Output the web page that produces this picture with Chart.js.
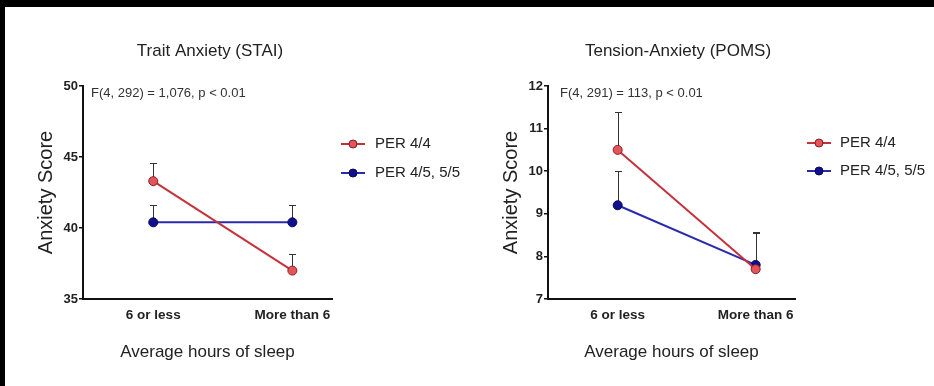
<!DOCTYPE html>
<html>
<head>
<meta charset="utf-8">
<script src="https://cdn.jsdelivr.net/npm/chart.js@4.4.0/dist/chart.umd.min.js"></script>
<style>
  html, body { margin:0; padding:0; background:#000; width:934px; height:386px; overflow:hidden; }
  #paper { position:absolute; left:5px; top:7px; width:929px; height:379px; background:#fff; }
  canvas { position:absolute; top:7px; }
  #c1 { left:5px; }
  #c2 { left:470px; }
</style>
</head>
<body>
<div id="paper"></div>
<canvas id="c1" width="465" height="379"></canvas>
<canvas id="c2" width="464" height="379"></canvas>
<script>
// ---------- data ----------
const categories = ['6 or less', 'More than 6'];
const seriesNames = ['PER 4/4', 'PER 4/5, 5/5'];
const chartTitles = ['Trait Anxiety (STAI)', 'Tension-Anxiety (POMS)'];
const statTexts = ['F(4, 292) = 1,076, p < 0.01', 'F(4, 291) = 113, p < 0.01'];
const yAxisTitle = 'Anxiety Score';
const xAxisTitle = 'Average hours of sleep';

const staiPer44 = [43.3, 37.0];
const staiPer44Err = [1.25, 1.15];
const staiPer4555 = [40.4, 40.4];
const staiPer4555Err = [1.2, 1.2];
const staiTicks = [35, 40, 45, 50];

const pomsPer44 = [10.5, 7.7];
const pomsPer44Err = [0.9, 0.85];
const pomsPer4555 = [9.2, 7.8];
const pomsPer4555Err = [0.8, 0.77];
const pomsTicks = [7, 8, 9, 10, 11, 12];

// ---------- style ----------
const FONT = "'Liberation Sans', Arial, sans-serif";
Chart.defaults.font.family = FONT;
const TXT = '#222';
const AX = '#111';
const RED = { line: '#c4323c', fill: '#e4545b', edge: '#8e1c22' };
const BLUE = { line: '#2a2aae', fill: '#10108c', edge: '#08085e' };

const errorBarPlugin = {
  id: 'errorBars',
  beforeDatasetsDraw(chart) {
    const { ctx } = chart;
    const xs = chart.scales.x, ys = chart.scales.y;
    ctx.save();
    ctx.strokeStyle = '#333';
    ctx.lineWidth = 1;
    chart.data.datasets.forEach(ds => {
      ds.data.forEach((p, i) => {
        const e = ds.errors[i];
        const x = Math.round(xs.getPixelForValue(p.x)) + 0.5;
        const y0 = ys.getPixelForValue(p.y);
        const y1 = Math.round(ys.getPixelForValue(p.y + e)) + 0.5;
        ctx.beginPath();
        ctx.moveTo(x, y0);
        ctx.lineTo(x, y1);
        ctx.moveTo(x - 3.5, y1);
        ctx.lineTo(x + 3.5, y1);
        ctx.stroke();
      });
    });
    ctx.restore();
  }
};

const extrasPlugin = {
  id: 'extras',
  afterDraw(chart, args, opts) {
    const { ctx, chartArea } = chart;
    ctx.save();
    // statistic text
    ctx.font = '13px ' + FONT;
    ctx.fillStyle = '#333';
    ctx.textBaseline = 'middle';
    ctx.textAlign = 'left';
    ctx.fillText(opts.stat, chartArea.left + opts.statDx, chartArea.top + 7);
    // legend
    ctx.font = '15px ' + FONT;
    chart.data.datasets.forEach((ds, i) => {
      const y = opts.legY + i * opts.legGap;
      ctx.strokeStyle = ds.borderColor;
      ctx.lineWidth = 2;
      ctx.beginPath();
      ctx.moveTo(opts.legX, y);
      ctx.lineTo(opts.legX + opts.legLen, y);
      ctx.stroke();
      ctx.beginPath();
      ctx.arc(opts.legX + opts.legLen / 2, y, 4, 0, Math.PI * 2);
      ctx.fillStyle = ds.pointBackgroundColor;
      ctx.fill();
      ctx.lineWidth = 1;
      ctx.strokeStyle = ds.pointBorderColor;
      ctx.stroke();
      ctx.fillStyle = TXT;
      ctx.fillText(ds.label, opts.legX + opts.legLen + opts.legTextGap, y);
    });
    ctx.restore();
  }
};

function ds(label, vals, errs, c) {
  return {
    label,
    data: vals.map((v, i) => ({ x: i, y: v })),
    errors: errs,
    borderColor: c.line,
    borderWidth: 2,
    pointBackgroundColor: c.fill,
    pointBorderColor: c.edge,
    pointBorderWidth: 1,
    pointRadius: 4.5,
    tension: 0,
    fill: false
  };
}

function makeChart(id, cfg) {
  new Chart(document.getElementById(id), {
    type: 'line',
    data: {
      datasets: [
        ds(seriesNames[0], cfg.a, cfg.aErr, RED),
        ds(seriesNames[1], cfg.b, cfg.bErr, BLUE)
      ]
    },
    options: {
      responsive: false,
      animation: false,
      events: [],
      layout: { autoPadding: false, padding: { left: 29, right: cfg.padR, top: 0, bottom: 23 } },
      plugins: {
        legend: { display: false },
        tooltip: { enabled: false },
        title: {
          display: true, text: cfg.title, color: TXT,
          font: { size: 17, weight: 'normal', family: FONT },
          padding: { top: 34, bottom: 24.6 }
        },
        extras: cfg.extras
      },
      scales: {
        x: {
          type: 'linear', min: -0.505, max: 1.285,
          afterBuildTicks: s => { s.ticks = categories.map((_, i) => ({ value: i })); },
          grid: { display: false, drawTicks: false },
          border: { display: true, color: AX, width: 2 },
          ticks: {
            callback: v => categories[Math.round(v)] || '',
            color: TXT, font: { size: 13.5, weight: 'bold' }, padding: 8,
            autoSkip: false, maxRotation: 0
          },
          title: { display: true, text: xAxisTitle, color: TXT, font: { size: 17 }, padding: 0 },
          afterFit: s => { s.height = 64; }
        },
        y: {
          type: 'linear', position: 'left', min: cfg.ticks[0], max: cfg.ticks[cfg.ticks.length - 1],
          afterBuildTicks: s => { s.ticks = cfg.ticks.map(v => ({ value: v })); },
          grid: { display: true, drawOnChartArea: false, drawTicks: true, tickLength: 4, color: AX, lineWidth: 1.5 },
          border: { display: true, color: AX, width: 2 },
          ticks: { color: TXT, font: { size: 13, weight: 'bold' }, padding: 1 },
          title: { display: true, text: yAxisTitle, color: TXT, font: { size: 20 }, padding: 0 },
          afterFit: s => { s.width = 49; }
        },
        yR: {
          type: 'linear', position: 'right', display: true,
          grid: { display: false }, border: { display: false }, ticks: { display: false },
          afterFit: s => { s.width = cfg.dummyW; }
        }
      }
    },
    plugins: [errorBarPlugin, extrasPlugin]
  });
}

makeChart('c1', {
  title: chartTitles[0], a: staiPer44, aErr: staiPer44Err, b: staiPer4555, bErr: staiPer4555Err,
  ticks: staiTicks, padR: 84, dummyW: 54,
  extras: { stat: statTexts[0], statDx: 8, legX: 336, legLen: 24, legTextGap: 10, legY: 137, legGap: 29 }
});
makeChart('c2', {
  title: chartTitles[1], a: pomsPer44, aErr: pomsPer44Err, b: pomsPer4555, bErr: pomsPer4555Err,
  ticks: pomsTicks, padR: 77, dummyW: 62,
  extras: { stat: statTexts[1], statDx: 12, legX: 337, legLen: 24, legTextGap: 9, legY: 136, legGap: 28 }
});
</script>
</body>
</html>
